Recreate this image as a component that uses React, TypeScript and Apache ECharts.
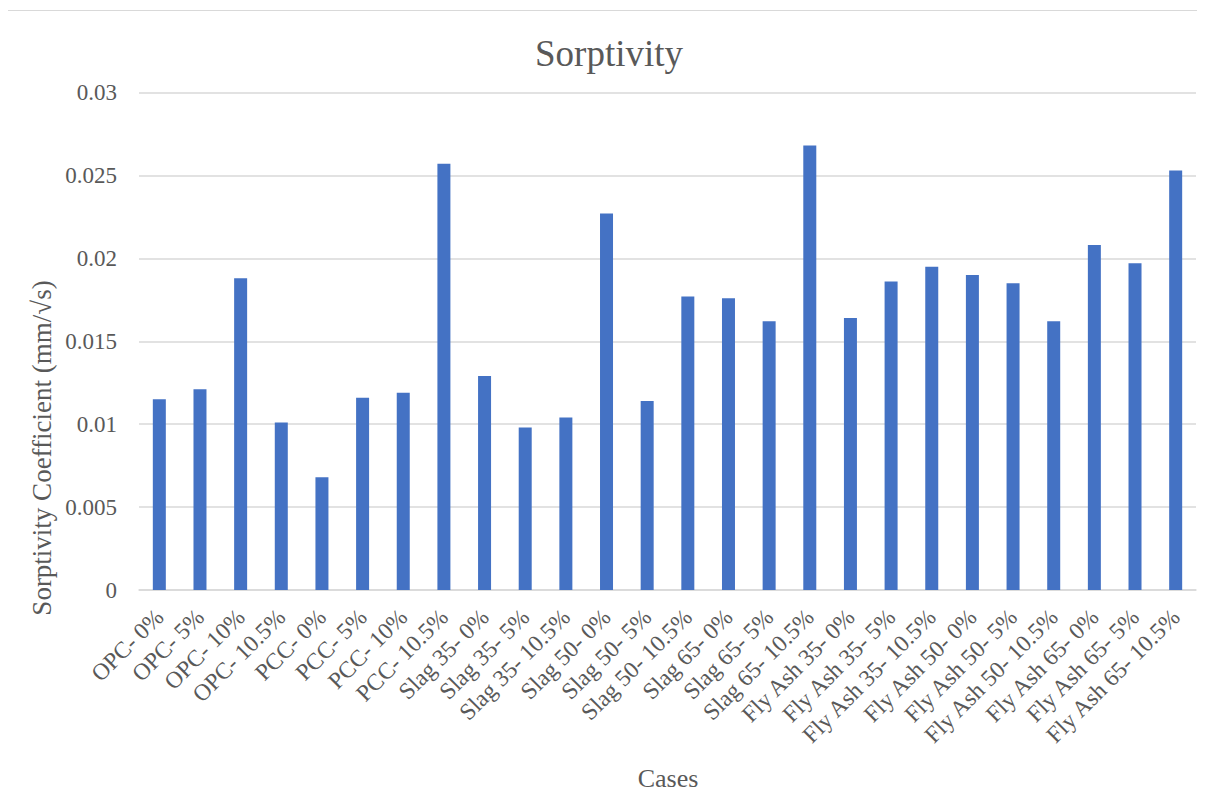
import React, { useEffect, useRef } from "react";
import * as echarts from "echarts";

const categories: string[] = [
  "OPC- 0%", "OPC- 5%", "OPC- 10%", "OPC- 10.5%",
  "PCC- 0%", "PCC- 5%", "PCC- 10%", "PCC- 10.5%",
  "Slag 35- 0%", "Slag 35- 5%", "Slag 35- 10.5%",
  "Slag 50- 0%", "Slag 50- 5%", "Slag 50- 10.5%",
  "Slag 65- 0%", "Slag 65- 5%", "Slag 65- 10.5%",
  "Fly Ash 35- 0%", "Fly Ash 35- 5%", "Fly Ash 35- 10.5%",
  "Fly Ash 50- 0%", "Fly Ash 50- 5%", "Fly Ash 50- 10.5%",
  "Fly Ash 65- 0%", "Fly Ash 65- 5%", "Fly Ash 65- 10.5%",
];

const sorptivity: number[] = [
  0.0115, 0.0121, 0.0188, 0.0101,
  0.0068, 0.0116, 0.0119, 0.0257,
  0.0129, 0.0098, 0.0104,
  0.0227, 0.0114, 0.0177,
  0.0176, 0.0162, 0.0268,
  0.0164, 0.0186, 0.0195,
  0.019, 0.0185, 0.0162,
  0.0208, 0.0197, 0.0253,
];

const yTicks: number[] = [0, 0.005, 0.01, 0.015, 0.02, 0.025, 0.03];

const chartTitle = "Sorptivity";
const yAxisTitle = "Sorptivity Coefficient (mm/\u221As)";
const xAxisTitle = "Cases";

const FONT = '"Liberation Serif", "Times New Roman", serif';
const TEXT = "#595959";
const GRID = "#d9d9d9";
const BAR = "#4472C4";

export default function App() {
  const ref = useRef<HTMLDivElement>(null);

  useEffect(() => {
    if (!ref.current) return;
    const chart = echarts.init(ref.current, undefined, { renderer: "svg" });
    chart.setOption({
      animation: false,
      backgroundColor: "#ffffff",
      textStyle: { fontFamily: FONT },
      grid: { left: 131, right: 9, top: 81.5, bottom: 222, containLabel: false },
      graphic: [
        {
          type: "text",
          x: 601,
          y: 42,
          style: {
            text: chartTitle,
            fontFamily: FONT,
            fontSize: 37,
            fill: TEXT,
            align: "center",
            verticalAlign: "middle",
          },
        },
        {
          type: "text",
          x: 34,
          y: 437,
          rotation: Math.PI / 2,
          style: {
            text: yAxisTitle,
            fontFamily: FONT,
            fontSize: 27,
            fill: TEXT,
            align: "center",
            verticalAlign: "middle",
          },
        },
        {
          type: "text",
          x: 660,
          y: 767,
          style: {
            text: xAxisTitle,
            fontFamily: FONT,
            fontSize: 26,
            fill: TEXT,
            align: "center",
            verticalAlign: "middle",
          },
        },
      ],
      xAxis: {
        type: "category",
        data: categories,
        axisLine: { show: true, lineStyle: { color: GRID, width: 1.5 } },
        axisTick: { show: false },
        axisLabel: {
          interval: 0,
          rotate: 45,
          margin: 23,
          padding: [24, 0, 0, 0],
          fontFamily: FONT,
          fontSize: 23.5,
          color: TEXT,
        },
      },
      yAxis: {
        type: "value",
        min: yTicks[0],
        max: yTicks[yTicks.length - 1],
        interval: 0.005,
        axisLine: { show: false },
        axisTick: { show: false },
        splitLine: { show: true, lineStyle: { color: GRID, width: 1.5 } },
        axisLabel: {
          margin: 22,
          fontFamily: FONT,
          fontSize: 23,
          color: TEXT,
          formatter: (v: number) => String(parseFloat(v.toFixed(4))),
        },
      },
      series: [
        {
          type: "bar",
          data: sorptivity,
          barWidth: 13,
          itemStyle: { color: BAR },
        },
      ],
    });
    return () => chart.dispose();
  }, []);

  return (
    <div
      style={{
        marginTop: 2,
        marginLeft: -1,
        width: 1199,
        height: 803,
        border: "1px solid #d9d9d9",
        boxSizing: "border-box",
        background: "#fff",
      }}
    >
      <div ref={ref} style={{ width: "100%", height: "100%" }} />
    </div>
  );
}
